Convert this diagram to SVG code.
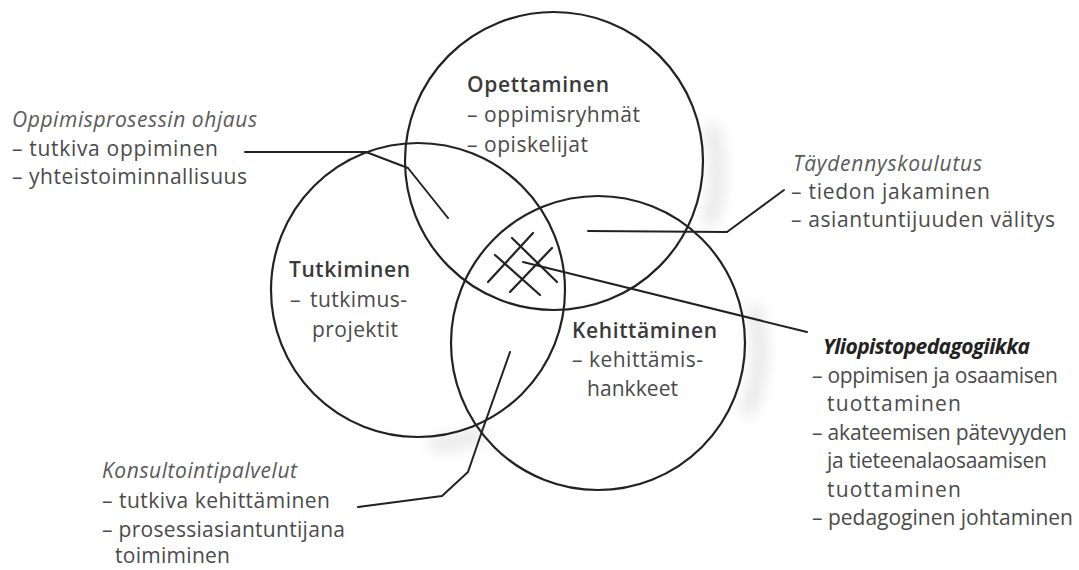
<svg xmlns="http://www.w3.org/2000/svg" width="1079" height="570" viewBox="0 0 1079 570">
<style>
.c{fill:none;stroke:#222;stroke-width:2.2}
.l{fill:none;stroke:#222;stroke-width:2;stroke-linejoin:round;stroke-linecap:round}
.hx{fill:none;stroke:#222;stroke-width:2.2;stroke-linecap:round}
text{font-family:"Open Sans","Noto Sans","Liberation Sans",sans-serif;font-size:21px;fill:#4a4a4a}
.h{font-weight:600;fill:#3a3a3a}
.i{font-style:italic;fill:#5a5a5a}
.bi{font-style:italic;font-weight:700;fill:#222}
.s{fill:none;stroke:#000;stroke-width:12}
</style>
<defs>
<filter id="sh" x="-30%" y="-30%" width="160%" height="160%"><feGaussianBlur stdDeviation="8"/></filter>
</defs>
<rect width="1079" height="570" fill="#fff"/>
<g id="shadows" opacity="0.12" filter="url(#sh)">
<path class="s" d="M710,125 A150,150 0 0 1 708,225"/>
<path class="s" d="M430,444 Q462,444 485,432"/>
<path class="s" d="M752,305 A148,148 0 0 1 746,415"/>
</g>
<g id="node-opettaminen">
<circle class="c" cx="554" cy="161" r="149"/>
<text class="h" x="467" y="92" textLength="142" lengthAdjust="spacing">Opettaminen</text>
<text x="467" y="122" textLength="173" lengthAdjust="spacing">– oppimisryhmät</text>
<text x="467" y="152" textLength="121" lengthAdjust="spacing">– opiskelijat</text>
</g>
<g id="node-tutkiminen">
<circle class="c" cx="418" cy="290" r="147"/>
<text class="h" x="289" y="277" textLength="121" lengthAdjust="spacing">Tutkiminen</text>
<text x="290" y="307">–<tspan x="310" textLength="97" lengthAdjust="spacing">tutkimus-</tspan></text>
<text x="312" y="337" textLength="86" lengthAdjust="spacing">projektit</text>
</g>
<g id="node-kehittaminen">
<circle class="c" cx="598" cy="343" r="147"/>
<text class="h" x="572" y="338" textLength="145" lengthAdjust="spacing">Kehittäminen</text>
<text x="572" y="367" textLength="131" lengthAdjust="spacing">– kehittämis-</text>
<text x="587" y="396" textLength="91" lengthAdjust="spacing">hankkeet</text>
</g>
<g id="node-yliopistopedagogiikka-hatch">
<line class="hx" x1="512" y1="238" x2="557" y2="282"/>
<line class="hx" x1="495" y1="255" x2="540" y2="295"/>
<line class="hx" x1="533" y1="233" x2="488" y2="282"/>
<line class="hx" x1="552" y1="248" x2="510" y2="292"/>
</g>
<g id="connectors">
<polyline class="l" points="245,152 366,152 408,168 448,218"/>
<polyline class="l" points="588,231 727,232 784,190"/>
<polyline class="l" points="358,507 442,496 468,472 480,437 510,352"/>
<polyline class="l" points="523,262 807,332"/>
</g>
<g id="label-oppimisprosessin">
<text class="i" x="12" y="127" textLength="245" lengthAdjust="spacing">Oppimisprosessin ohjaus</text>
<text x="12" y="156" textLength="206" lengthAdjust="spacing">– tutkiva oppiminen</text>
<text x="12" y="184" textLength="235" lengthAdjust="spacing">– yhteistoiminnallisuus</text>
</g>
<g id="label-taydennyskoulutus">
<text class="i" x="793" y="171" textLength="189" lengthAdjust="spacing">Täydennyskoulutus</text>
<text x="791" y="199" textLength="199" lengthAdjust="spacing">– tiedon jakaminen</text>
<text x="791" y="227" textLength="264" lengthAdjust="spacing">– asiantuntijuuden välitys</text>
</g>
<g id="label-yliopistopedagogiikka">
<text class="bi" x="823" y="354" textLength="207" lengthAdjust="spacing">Yliopistopedagogiikka</text>
<text x="812" y="383" textLength="246" lengthAdjust="spacing">– oppimisen ja osaamisen</text>
<text x="827" y="411" textLength="134" lengthAdjust="spacing">tuottaminen</text>
<text x="812" y="440" textLength="255" lengthAdjust="spacing">– akateemisen pätevyyden</text>
<text x="827" y="468" textLength="220" lengthAdjust="spacing">ja tieteenalaosaamisen</text>
<text x="827" y="497" textLength="134" lengthAdjust="spacing">tuottaminen</text>
<text x="812" y="525" textLength="261" lengthAdjust="spacing">– pedagoginen johtaminen</text>
</g>
<g id="label-konsultointipalvelut">
<text class="i" x="102" y="478" textLength="195" lengthAdjust="spacing">Konsultointipalvelut</text>
<text x="102" y="508" textLength="228" lengthAdjust="spacing">– tutkiva kehittäminen</text>
<text x="102" y="537" textLength="243" lengthAdjust="spacing">– prosessiasiantuntijana</text>
<text x="115" y="563" textLength="115" lengthAdjust="spacing">toimiminen</text>
</g>
</svg>
